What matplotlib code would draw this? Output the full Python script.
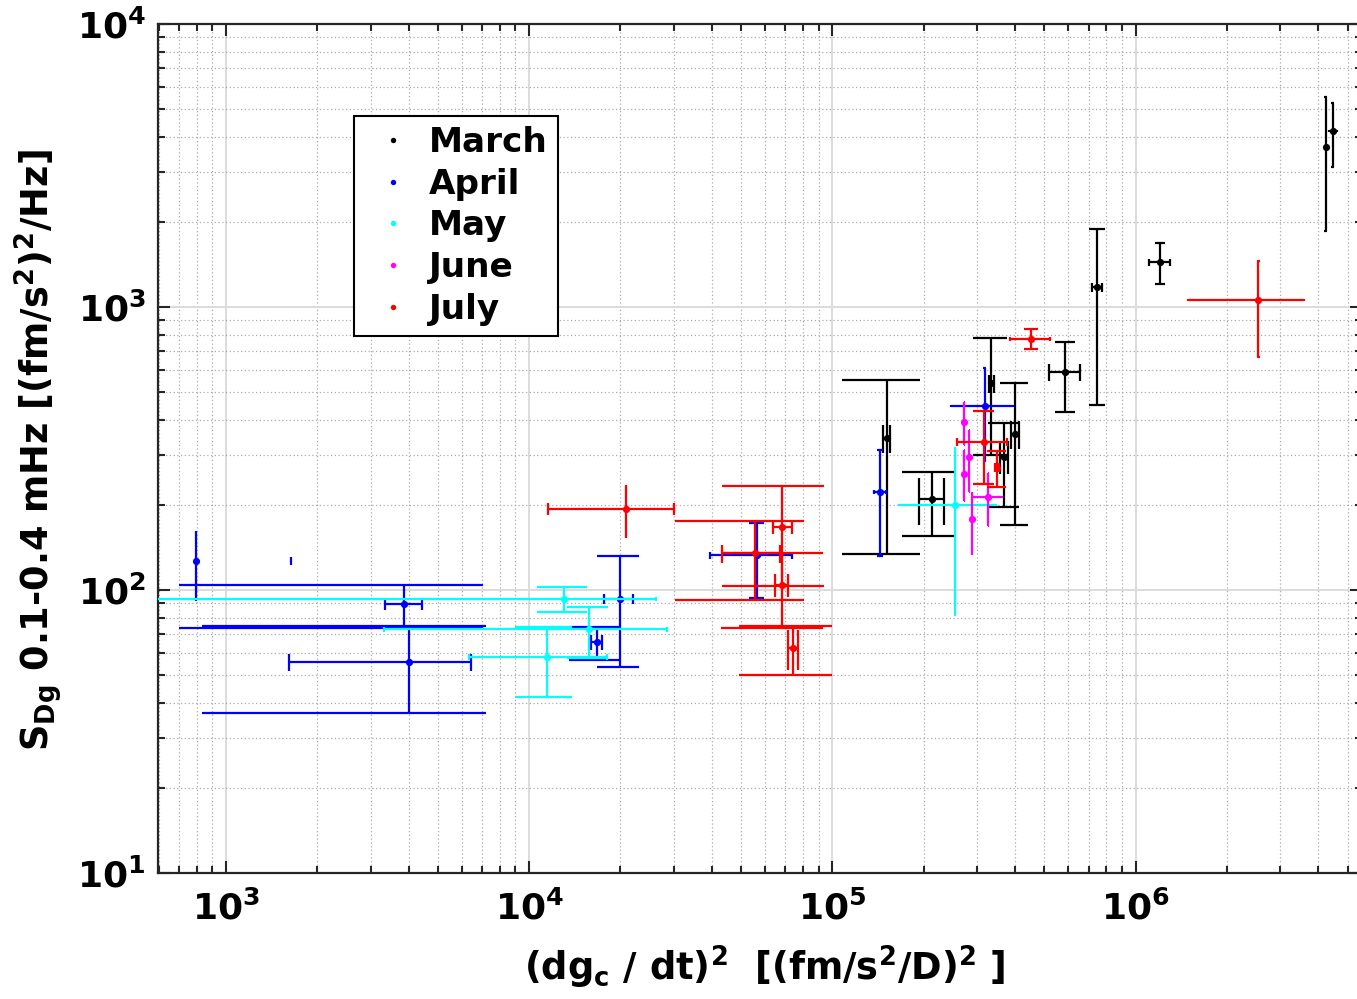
import numpy as np
import matplotlib
matplotlib.use('Agg')
import matplotlib.pyplot as plt
from matplotlib.collections import LineCollection
from matplotlib.ticker import LogLocator, FuncFormatter, NullFormatter

plt.rcParams['font.family'] = ['DejaVu Sans']
plt.rcParams['font.weight'] = 'bold'
plt.rcParams['mathtext.fontset'] = 'dejavusans'
plt.rcParams['mathtext.default'] = 'bf'

# ---------------- data ----------------
months = ['March', 'April', 'May', 'June', 'July']
colors = ['black', 'blue', 'cyan', 'magenta', 'red']

# March
march_x = [151100, 212600, 334200, 368700, 400000, 586300, 747600, 1204000, 4236000, 4467000]
march_y = [344.4, 209.7, 538.7, 296.6, 355.8, 589.3, 1177, 1442, 3694, 4207]
march_ylo = [210, 53.8, 238.6, 100, 185, 164, 725, 234, 1834, 1083]
march_yhi = [209, 52.7, 238.6, 93, 186, 163, 719, 241, 1855, 1077]
march_xlo = [3850, 20100, 7000, 11700, 12650, 70000, 30000, 96000, 0, 135000]
march_xhi = [3850, 20100, 7000, 11700, 12650, 70000, 30000, 96000, 0, 135000]

# April
april_x = [798, 3873, 4005, 19930, 16700, 56270, 143500, 317900]
april_y = [127, 89.2, 55.7, 93.2, 65.5, 133, 222.5, 448]
april_ylo = [35.3, 15.8, 18.8, 39.5, 8.8, 39.3, 90, 161]
april_yhi = [35.0, 15.6, 19.1, 39.3, 8.8, 39.5, 90.5, 161]
april_xlo = [839, 536, 2387, 2240, 670, 16800, 6000, 71700]
april_xhi = [839, 548, 2407, 2110, 670, 17160, 6400, 75300]

# May
may_x = [13060, 15790, 11420, 253700]
may_y = [93.2, 72.8, 58.3, 199.7]
may_ylo = [9.2, 15.3, 16.4, 117.9]
may_yhi = [9.8, 14.7, 16.0, 119.3]
may_xlo = [12900, 12460, 5090, 87900]
may_xhi = [13120, 12620, 6590, 91900]

# June
june_x = [272300, 272300, 282800, 288700, 326900]
june_y = [393.3, 257.2, 295.1, 178.2, 214.1]
june_ylo = [67.2, 49.9, 72, 44.9, 46]
june_yhi = [70.5, 56, 73, 44.8, 45]
june_xlo = [0, 0, 0, 0, 33100]
june_xhi = [0, 0, 0, 0, 34800]

# July
july_x = [20860, 68300, 55420, 68020, 74320, 452900, 316200, 349100, 2539000]
july_y = [194.2, 167.8, 135.1, 104.4, 62.4, 772.7, 334.2, 271.2, 1061]
july_ylo = [40.8, 64.2, 42.7, 30.6, 12.2, 62.1, 96.1, 38.9, 392]
july_yhi = [41.4, 65.9, 41.1, 31.4, 12.6, 65.3, 96.8, 39.4, 396]
july_xlo = [9300, 4740, 12280, 3340, 2780, 67500, 59200, 5000, 1054000]
july_xhi = [9240, 5130, 11760, 3520, 2510, 69100, 59500, 5000, 1061000]

series = [
    (march_x, march_y, march_ylo, march_yhi, march_xlo, march_xhi),
    (april_x, april_y, april_ylo, april_yhi, april_xlo, april_xhi),
    (may_x, may_y, may_ylo, may_yhi, may_xlo, may_xhi),
    (june_x, june_y, june_ylo, june_yhi, june_xlo, june_xhi),
    (july_x, july_y, july_ylo, july_yhi, july_xlo, july_xhi),
]

xticks_exp = [3, 4, 5, 6]
yticks_exp = [1, 2, 3, 4]


def error_segments(x, y, ylo, yhi, xlo, xhi):
    """MATLAB-style errorbar/herrorbar: caps are +-1% of the data range in linear units;
    segments touching non-positive values vanish on log axes."""
    x, y = np.asarray(x, float), np.asarray(y, float)
    tee_x = (x.max() - x.min()) / 100.0
    tee_y = (y.max() - y.min()) / 100.0
    segs = []
    for i in range(len(x)):
        yb, yt = y[i] - ylo[i], y[i] + yhi[i]
        segs.append([(x[i], yb), (x[i], yt)])
        for yy in (yb, yt):
            segs.append([(x[i] - tee_x, yy), (x[i] + tee_x, yy)])
        if xlo[i] > 0 or xhi[i] > 0:
            xl, xr = x[i] - xlo[i], x[i] + xhi[i]
            segs.append([(xl, y[i]), (xr, y[i])])
            for xx in (xl, xr):
                segs.append([(xx, y[i] - tee_y), (xx, y[i] + tee_y)])
    return [s for s in segs if min(p[0] for p in s) > 0 and min(p[1] for p in s) > 0]


W, H = 1357, 999
fig = plt.figure(figsize=(W / 100, H / 100), dpi=100)
ax = fig.add_axes([158.3 / W, 1 - 873.3 / H, (1362 - 158.3) / W, (873.3 - 24.3) / H])
ax.set_xscale('log')
ax.set_yscale('log')
ax.set_xlim(598, 5.58e6)
ax.set_ylim(10, 1e4)

handles = []
for k, (s, c, name) in enumerate(zip(series, colors, months)):
    segs = error_segments(*s)
    lc = LineCollection(segs, colors=c, linewidths=1.6, zorder=3 + k, capstyle='butt')
    ax.add_collection(lc)
    h, = ax.plot(s[0], s[1], 'o', color=c, ms=5.2, mew=0, zorder=3 + k, label=name)
    handles.append(h)

# grid
ax.grid(which='major', color='#dcdcdc', lw=1.4, ls='-', zorder=0)
ax.grid(which='minor', color='#aaaaaa', lw=0.9, ls=(0, (1, 2)), zorder=0)
ax.set_axisbelow(True)

fmt = FuncFormatter(lambda v, p: r'$10^{%d}$' % int(round(np.log10(v))))
ax.xaxis.set_major_locator(LogLocator(base=10, numticks=20))
ax.yaxis.set_major_locator(LogLocator(base=10, numticks=20))
ax.xaxis.set_minor_locator(LogLocator(base=10, subs=np.arange(2, 10), numticks=100))
ax.yaxis.set_minor_locator(LogLocator(base=10, subs=np.arange(2, 10), numticks=100))
ax.xaxis.set_major_formatter(fmt)
ax.yaxis.set_major_formatter(fmt)
ax.xaxis.set_minor_formatter(NullFormatter())
ax.yaxis.set_minor_formatter(NullFormatter())
ax.set_xticks([10.0 ** e for e in xticks_exp])
ax.set_yticks([10.0 ** e for e in yticks_exp])

ax.tick_params(which='both', direction='in', top=True, right=True, color='#262626')
ax.tick_params(which='major', length=8.6, width=1.5, labelsize=26)
ax.tick_params(axis='y', which='major', pad=9)
ax.tick_params(axis='x', which='major', pad=12)
ax.tick_params(which='minor', length=4.8, width=1.5)
for sp in ax.spines.values():
    sp.set_linewidth(1.6)
    sp.set_color('#262626')

ax.set_xlabel(r'(dg$_{c}$ / dt)$^{2}$  [(fm/s$^{2}$/D)$^{2}$ ]', fontsize=26.5, fontweight='bold')
ax.set_ylabel(r'S$_{Dg}$ 0.1-0.4 mHz [(fm/s$^{2}$)$^{2}$/Hz]', fontsize=26.5, fontweight='bold')
ax.xaxis.set_label_coords((765 - 158.3) / (1362 - 158.3), -(967 - 873.3) / 849, transform=ax.transAxes)
ax.yaxis.set_label_coords(-(158.3 - 38) / (1362 - 158.3), (873.3 - 450) / 849, transform=ax.transAxes)
ax.xaxis.label.set_va('center')
ax.yaxis.label.set_va('center')

leg = ax.legend(handles=handles, loc='upper left',
                bbox_to_anchor=((354 - 158.3) / (1362 - 158.3), 1 - (116 - 24.3) / 849),
                borderaxespad=0, fontsize=24.7, frameon=True, fancybox=False,
                edgecolor='black', framealpha=1, borderpad=0.3, handlelength=1.67,
                handletextpad=0.21, labelspacing=0.25, markerscale=0.75)
leg.get_frame().set_linewidth(1.5)
leg.set_zorder(20)

fig.savefig('out.png', dpi=100)
